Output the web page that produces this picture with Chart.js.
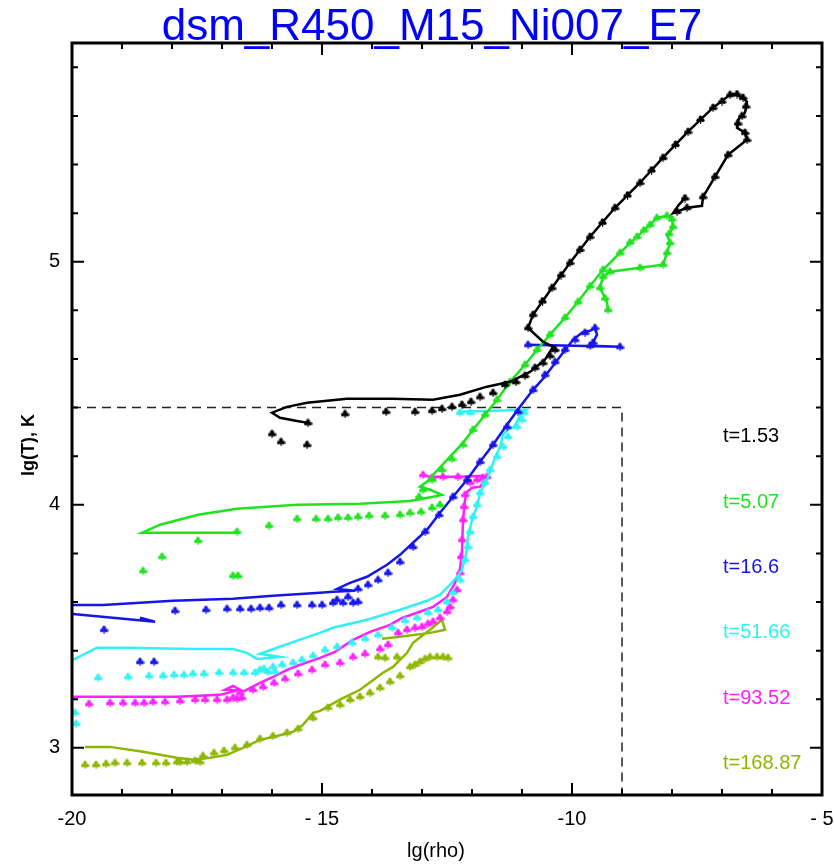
<!DOCTYPE html>
<html>
<head>
  <meta charset="utf-8">
  <title>dsm_R450_M15_Ni007_E7</title>
  <style>
    body { margin: 0; background: #fff; }
  </style>
</head>
<body>
<canvas id="trackChart" width="834" height="866"></canvas>
<script src="https://cdn.jsdelivr.net/npm/chart.js"></script>
<script type="text/javascript">
    // axis ranges and labels
    const xRange = [-20, -5];
    const yRange = [2.806, 5.9];
    const xTickText = { '-20': '-20', '-15': '- 15', '-10': '-10', '-5': '- 5' };
    const titleText = 'dsm_R450_M15_Ni007_E7';
    const xTitle = 'lg(rho)';
    const yTitle = 'lg(T), K';

    const timeLabels = ['t=1.53', 't=5.07', 't=16.6', 't=51.66', 't=93.52', 't=168.87'];
    const timeColors = ['#000000', '#1fe31f', '#1515e8', '#30f2f2', '#ff1fff', '#8db600'];

    // boundary of the dashed box
    const boxLine = [[-20, 4.4], [-9, 4.4], [-9, 2.8]];

    // t=1.53
    const line153 = [[-15.28,4.337],[-15.5,4.345],[-15.84,4.358],[-16.0,4.379],[-15.7,4.403],[-15.3,4.42],[-14.5,4.436],
      [-13.6,4.436],[-12.78,4.432],[-12.24,4.453],[-11.7,4.486],[-11.24,4.506],[-10.84,4.547],[-10.54,4.597],[-10.38,4.65],
      [-10.58,4.671],[-10.88,4.728],[-10.78,4.782],[-10.4,4.893],[-10.04,4.996],[-9.64,5.103],[-9.14,5.222],[-8.64,5.325],
      [-8.18,5.428],[-7.68,5.535],[-7.18,5.634],[-6.84,5.687],[-6.78,5.691],[-6.58,5.675],[-6.5,5.658],[-6.54,5.613],
      [-6.68,5.584],[-6.7,5.551],[-6.54,5.531],[-6.5,5.502],[-6.88,5.44],[-7.38,5.267],[-7.4,5.23],[-7.7,5.222],
      [-7.9,5.206],[-7.98,5.2],[-7.86,5.235],[-7.74,5.262]];
    const pts153 = [[-16.0,4.292],[-15.82,4.259],[-15.3,4.247],[-15.28,4.337],[-14.54,4.374],[-13.72,4.383],[-13.14,4.383],
      [-12.8,4.387],[-12.6,4.395],[-12.4,4.403],[-12.2,4.412],[-12.02,4.424],[-11.84,4.444],[-11.58,4.461],[-11.34,4.494],
      [-11.12,4.506],[-10.94,4.531],[-10.74,4.564],[-10.58,4.584],[-10.44,4.613],[-10.34,4.638],[-10.88,4.728],[-10.78,4.782],
      [-10.59,4.838],[-10.4,4.893],[-10.22,4.945],[-10.04,4.996],[-9.84,5.05],[-9.64,5.103],[-9.39,5.162],[-9.14,5.222],
      [-8.89,5.274],[-8.64,5.325],[-8.41,5.377],[-8.18,5.428],[-7.93,5.482],[-7.68,5.535],[-7.43,5.585],[-7.18,5.634],
      [-7.0,5.66],[-6.84,5.687],[-6.7,5.69],[-6.58,5.675],[-6.52,5.64],[-6.6,5.6],[-6.68,5.57],[-6.54,5.531],[-6.5,5.502],
      [-6.88,5.44],[-7.14,5.35],[-7.38,5.267],[-7.7,5.222],[-7.9,5.206],[-7.74,5.262]];

    // t=5.07
    const line507 = [[-16.7,3.885],[-18.6,3.885],[-18.24,3.918],[-17.48,3.959],[-16.7,3.984],[-15.5,4.0],[-14.24,4.004],
      [-13.24,4.016],[-12.78,4.033],[-12.6,4.041],[-12.84,4.062],[-13.04,4.074],[-12.88,4.099],[-12.74,4.132],[-12.44,4.198],
      [-12.18,4.255],[-11.98,4.309],[-11.74,4.37],[-11.5,4.432],[-11.24,4.506],[-10.94,4.576],[-10.7,4.638],[-10.44,4.7],
      [-10.14,4.77],[-9.88,4.835],[-9.64,4.9],[-9.38,4.967],[-9.04,5.037],[-8.7,5.103],[-8.44,5.152],[-8.3,5.181],
      [-8.1,5.189],[-8.0,5.181],[-7.98,5.144],[-8.04,5.119],[-8.1,5.111],[-8.04,5.078],[-8.1,5.037],[-8.18,4.988],
      [-8.64,4.975],[-9.24,4.959],[-9.38,4.938],[-9.44,4.893],[-9.3,4.835],[-9.28,4.802]];
    const pts507 = [[-18.58,3.728],[-18.2,3.786],[-17.48,3.852],[-16.78,3.708],[-16.68,3.708],[-16.7,3.889],[-16.06,3.914],
      [-15.5,3.942],[-15.12,3.942],[-14.88,3.942],[-14.68,3.947],[-14.48,3.947],[-14.28,3.951],[-14.06,3.955],[-13.74,3.955],
      [-13.44,3.959],[-13.24,3.967],[-13.02,3.971],[-12.8,3.988],[-12.64,4.0],[-13.06,4.033],[-12.98,4.062],[-12.8,4.103],
      [-12.6,4.144],[-12.4,4.189],[-12.18,4.247],[-11.98,4.309],[-11.74,4.37],[-11.5,4.432],[-11.24,4.506],[-10.94,4.576],
      [-10.7,4.638],[-10.44,4.7],[-10.14,4.77],[-9.88,4.835],[-9.64,4.9],[-9.38,4.967],[-9.04,5.037],[-8.84,5.08],
      [-8.7,5.103],[-8.56,5.13],[-8.44,5.152],[-8.3,5.181],[-8.1,5.189],[-8.0,5.175],[-7.98,5.144],[-8.06,5.115],
      [-8.04,5.078],[-8.1,5.037],[-8.18,4.988],[-8.64,4.975],[-9.24,4.959],[-9.38,4.938],[-9.44,4.893],[-9.34,4.85],
      [-9.28,4.802]];

    // t=16.6
    const line166 = [[-18.64,3.535],[-18.34,3.519],[-19.98,3.551],[-20.8,3.57],[-19.98,3.588],[-19.38,3.588],[-17.98,3.605],
      [-16.78,3.613],[-15.98,3.626],[-15.04,3.638],[-14.78,3.642],[-14.34,3.646],[-14.7,3.654],[-14.44,3.679],[-14.1,3.704],
      [-13.7,3.753],[-13.44,3.794],[-13.18,3.844],[-12.9,3.897],[-12.64,3.967],[-12.38,4.033],[-12.1,4.103],[-11.84,4.177],
      [-11.58,4.247],[-11.3,4.329],[-11.04,4.403],[-10.78,4.473],[-10.6,4.514],[-10.44,4.556],[-10.18,4.626],[-9.98,4.679],
      [-9.8,4.708],[-9.64,4.716],[-9.54,4.728],[-9.5,4.7],[-9.58,4.667],[-9.64,4.654],[-9.04,4.65],[-10.88,4.658]];
    const pts166 = [[-19.36,3.486],[-18.64,3.354],[-18.36,3.354],[-17.94,3.564],[-17.32,3.568],[-16.9,3.572],[-16.64,3.572],
      [-16.42,3.572],[-16.24,3.576],[-16.06,3.576],[-15.82,3.588],[-15.5,3.588],[-15.2,3.588],[-15.0,3.588],[-14.78,3.597],
      [-14.7,3.609],[-14.58,3.597],[-14.48,3.621],[-14.38,3.597],[-14.28,3.601],[-14.28,3.654],[-14.08,3.671],[-13.88,3.691],
      [-13.68,3.72],[-13.44,3.765],[-13.18,3.827],[-12.94,3.889],[-12.66,3.959],[-12.38,4.033],[-12.1,4.103],[-11.84,4.177],
      [-11.58,4.247],[-11.3,4.321],[-11.08,4.383],[-10.78,4.473],[-10.54,4.535],[-10.34,4.588],[-10.14,4.638],[-9.94,4.679],
      [-9.74,4.708],[-9.54,4.728],[-9.58,4.667],[-9.04,4.65],[-10.88,4.658],[-9.64,4.654]];

    // t=51.66
    const line5166 = [[-21,3.33],[-19.98,3.362],[-19.5,3.412],[-18.9,3.412],[-17.58,3.407],[-16.78,3.407],[-16.5,3.391],
      [-16.3,3.366],[-15.84,3.374],[-16.24,3.387],[-15.9,3.412],[-15.44,3.445],[-15.04,3.473],[-14.78,3.494],[-14.1,3.527],
      [-13.44,3.568],[-12.9,3.605],[-12.64,3.63],[-12.44,3.671],[-12.3,3.704],[-12.2,3.733],[-12.12,3.794],[-12.08,3.868],
      [-12.0,3.938],[-11.9,3.992],[-11.84,4.049],[-11.7,4.103],[-11.54,4.193],[-11.44,4.239],[-11.38,4.288],[-11.28,4.309],
      [-11.16,4.321],[-11.08,4.35],[-11.0,4.379],[-10.92,4.391],[-12.28,4.383]];
    const pts5166 = [[-19.94,3.144],[-19.92,3.099],[-19.48,3.288],[-18.88,3.292],[-18.46,3.296],[-18.18,3.296],[-17.96,3.3],
      [-17.76,3.3],[-17.58,3.305],[-17.36,3.305],[-17.06,3.309],[-16.78,3.309],[-16.56,3.309],[-16.34,3.309],[-16.24,3.321],
      [-16.16,3.325],[-16.08,3.313],[-15.98,3.333],[-15.94,3.313],[-15.8,3.342],[-15.58,3.35],[-15.4,3.362],[-15.18,3.379],
      [-14.94,3.403],[-14.7,3.416],[-14.4,3.432],[-14.14,3.449],[-13.88,3.465],[-13.6,3.494],[-13.34,3.523],[-13.1,3.535],
      [-12.88,3.556],[-12.68,3.568],[-12.5,3.601],[-12.38,3.638],[-12.24,3.691],[-12.14,3.774],[-12.08,3.827],[-12.04,3.889],
      [-11.98,3.951],[-11.9,4.0],[-11.84,4.049],[-11.74,4.091],[-11.64,4.144],[-11.5,4.198],[-11.38,4.239],[-11.28,4.28],
      [-11.1,4.321],[-11.0,4.35],[-10.96,4.379],[-12.24,4.379],[-12.04,4.379]];

    // t=93.52
    const line9352 = [[-21,3.21],[-19.98,3.21],[-18.9,3.21],[-17.9,3.21],[-17.04,3.218],[-16.64,3.239],[-16.78,3.255],
      [-16.94,3.239],[-16.54,3.235],[-16.24,3.267],[-15.98,3.292],[-15.7,3.321],[-15.44,3.342],[-15.04,3.37],[-14.74,3.395],
      [-14.38,3.444],[-14.04,3.477],[-13.64,3.506],[-13.4,3.535],[-13.1,3.556],[-12.78,3.58],[-12.5,3.621],[-12.34,3.679],
      [-12.24,3.733],[-12.2,3.815],[-12.18,3.938],[-12.14,4.021],[-12.1,4.053],[-12.0,4.07],[-11.84,4.074],[-11.74,4.103],
      [-11.78,4.119],[-12.24,4.115],[-12.84,4.115],[-13.0,4.123]];
    const pts9352 = [[-19.66,3.181],[-19.24,3.185],[-18.98,3.185],[-18.74,3.185],[-18.56,3.185],[-18.38,3.189],[-18.14,3.189],
      [-17.84,3.193],[-17.54,3.198],[-17.34,3.198],[-17.1,3.198],[-16.9,3.198],[-16.78,3.206],[-16.7,3.202],[-16.6,3.206],
      [-16.64,3.226],[-16.38,3.239],[-16.18,3.251],[-15.96,3.267],[-15.74,3.284],[-15.48,3.305],[-15.2,3.321],[-14.94,3.342],
      [-14.64,3.35],[-14.38,3.374],[-14.14,3.387],[-13.84,3.407],[-13.68,3.424],[-13.48,3.473],[-13.3,3.486],[-13.14,3.494],
      [-13.0,3.498],[-12.88,3.51],[-12.78,3.519],[-12.64,3.535],[-12.5,3.56],[-12.44,3.58],[-12.38,3.609],[-12.3,3.65],
      [-12.24,3.72],[-12.22,3.786],[-12.2,3.856],[-12.18,3.938],[-12.16,3.992],[-12.14,4.041],[-12.04,4.091],[-11.9,4.103],
      [-11.78,4.111],[-11.7,4.115],[-12.28,4.115],[-12.58,4.115],[-12.98,4.123],[-12.8,4.111]];

    // t=168.87
    const line16887 = [[-19.74,3.004],[-19.24,3.004],[-18.58,2.984],[-17.9,2.959],[-17.58,2.951],[-17.24,2.959],
      [-16.9,2.971],[-16.58,3.0],[-16.24,3.033],[-15.9,3.049],[-15.58,3.066],[-15.38,3.095],[-15.18,3.144],[-15.04,3.152],
      [-14.64,3.198],[-14.24,3.239],[-13.78,3.309],[-13.58,3.333],[-13.3,3.391],[-13.18,3.432],[-12.84,3.486],[-12.6,3.527],
      [-12.54,3.486],[-12.84,3.473],[-13.44,3.457],[-13.8,3.449]];
    const pts16887 = [[-19.74,2.93],[-19.52,2.93],[-19.32,2.934],[-19.14,2.938],[-18.9,2.938],[-18.6,2.938],[-18.32,2.938],
      [-18.12,2.938],[-17.9,2.942],[-17.84,2.942],[-17.7,2.942],[-17.54,2.947],[-17.44,2.942],[-17.38,2.967],[-17.16,2.979],
      [-16.96,2.988],[-16.74,3.0],[-16.5,3.012],[-16.24,3.037],[-15.98,3.049],[-15.7,3.062],[-15.48,3.078],[-15.18,3.123],
      [-14.88,3.165],[-14.64,3.177],[-14.44,3.198],[-14.24,3.21],[-14.04,3.226],[-13.84,3.247],[-13.64,3.272],[-13.44,3.296],
      [-13.88,3.374],[-13.74,3.37],[-13.5,3.374],[-13.24,3.333],[-13.14,3.342],[-13.04,3.354],[-12.94,3.366],[-12.84,3.374],
      [-12.7,3.374],[-12.58,3.374],[-12.48,3.37]];

    const lineSets = [line153, line507, line166, line5166, line9352, line16887];
    const pointSets = [pts153, pts507, pts166, pts5166, pts9352, pts16887];

    // small club-like marker, one per colour
    function makeMarker(color) {
      const c = document.createElement('canvas');
      c.width = 9; c.height = 9;
      const g = c.getContext('2d');
      g.fillStyle = color;
      g.beginPath(); g.arc(4.5, 2.4, 1.9, 0, Math.PI * 2); g.fill();
      g.beginPath(); g.arc(2.3, 5.2, 1.9, 0, Math.PI * 2); g.fill();
      g.beginPath(); g.arc(6.7, 5.2, 1.9, 0, Math.PI * 2); g.fill();
      g.fillRect(4, 4, 1.2, 4.8);
      return c;
    }

    const toXY = arr => arr.map(p => ({ x: p[0], y: p[1] }));

    const datasets = [];
    lineSets.forEach((arr, i) => {
      datasets.push({
        data: toXY(arr),
        showLine: true,
        borderColor: timeColors[i],
        borderWidth: 2.5,
        pointRadius: 0,
        tension: 0
      });
      datasets.push({
        data: toXY(pointSets[i]),
        showLine: false,
        pointStyle: makeMarker(timeColors[i]),
        pointRadius: 4
      });
    });
    datasets.push({
      data: toXY(boxLine),
      showLine: true,
      borderColor: '#222',
      borderWidth: 1.5,
      borderDash: [9, 6],
      pointRadius: 0
    });

    // frame, inward ticks and texts
    const framePlugin = {
      id: 'framePlugin',
      afterDraw(chart) {
        const { ctx, chartArea: a, scales: { x, y } } = chart;
        ctx.save();
        ctx.strokeStyle = '#000';
        ctx.lineWidth = 3;
        ctx.strokeRect(a.left, a.top, a.right - a.left, a.bottom - a.top);
        ctx.lineWidth = 2;
        ctx.beginPath();
        for (let v = xRange[0]; v <= xRange[1]; v++) {
          const px = x.getPixelForValue(v);
          const len = v % 5 === 0 ? 12 : 6;
          ctx.moveTo(px, a.bottom); ctx.lineTo(px, a.bottom - len);
          ctx.moveTo(px, a.top); ctx.lineTo(px, a.top + len);
        }
        for (let i = 1; i <= 15; i++) {
          const v = 2.8 + i * 0.2;
          const py = y.getPixelForValue(v);
          const len = Math.abs(v - Math.round(v)) < 1e-6 ? 12 : 6;
          ctx.moveTo(a.left, py); ctx.lineTo(a.left + len, py);
          ctx.moveTo(a.right, py); ctx.lineTo(a.right - len, py);
        }
        ctx.stroke();

        ctx.fillStyle = '#0000ff';
        ctx.font = '44px "Liberation Sans", Arial, sans-serif';
        ctx.textAlign = 'center';
        ctx.textBaseline = 'alphabetic';
        ctx.fillText(titleText, 432, 40);

        ctx.fillStyle = '#000';
        ctx.font = '20px "Liberation Sans", Arial, sans-serif';
        ctx.textBaseline = 'middle';
        ctx.fillText(xTitle, 436, 851);

        ctx.save();
        ctx.translate(29, 445);
        ctx.rotate(-Math.PI / 2);
        ctx.font = 'bold 18px "Liberation Sans", Arial, sans-serif';
        ctx.fillText(yTitle, 0, 0);
        ctx.restore();

        ctx.textAlign = 'left';
        ctx.font = '20px "Liberation Sans", Arial, sans-serif';
        const ys = [436, 502, 567, 632, 698, 763];
        timeLabels.forEach((t, i) => {
          ctx.fillStyle = timeColors[i];
          ctx.fillText(t, 723, ys[i]);
        });
        ctx.restore();
      }
    };

    const config = {
      type: 'scatter',
      data: { datasets: datasets },
      options: {
        responsive: false,
        animation: false,
        layout: { autoPadding: false, padding: { top: 43, right: 12, left: 0, bottom: 0 } },
        plugins: { legend: { display: false }, tooltip: { enabled: false } },
        scales: {
          x: {
            type: 'linear',
            min: xRange[0], max: xRange[1],
            grid: { display: false, drawTicks: false },
            border: { display: false },
            afterFit: s => { s.height = 71; s.paddingLeft = 0; s.paddingRight = 0; },
            ticks: {
              stepSize: 5, includeBounds: false, maxRotation: 0, autoSkip: false, padding: 12,
              color: '#000', font: { family: '"Liberation Sans", Arial, sans-serif', size: 20 },
              callback: v => xTickText[String(v)] || ''
            }
          },
          y: {
            type: 'linear',
            min: yRange[0], max: yRange[1],
            grid: { display: false, drawTicks: false },
            border: { display: false },
            afterFit: s => { s.width = 72; s.paddingTop = 0; s.paddingBottom = 0; },
            ticks: {
              stepSize: 1, includeBounds: false, padding: 12,
              color: '#000', font: { family: '"Liberation Sans", Arial, sans-serif', size: 20 },
              callback: v => Number.isInteger(v) ? String(v) : ''
            }
          }
        }
      },
      plugins: [framePlugin]
    };

    const trackChart = new Chart(document.getElementById('trackChart'), config);
</script>
</body>
</html>
